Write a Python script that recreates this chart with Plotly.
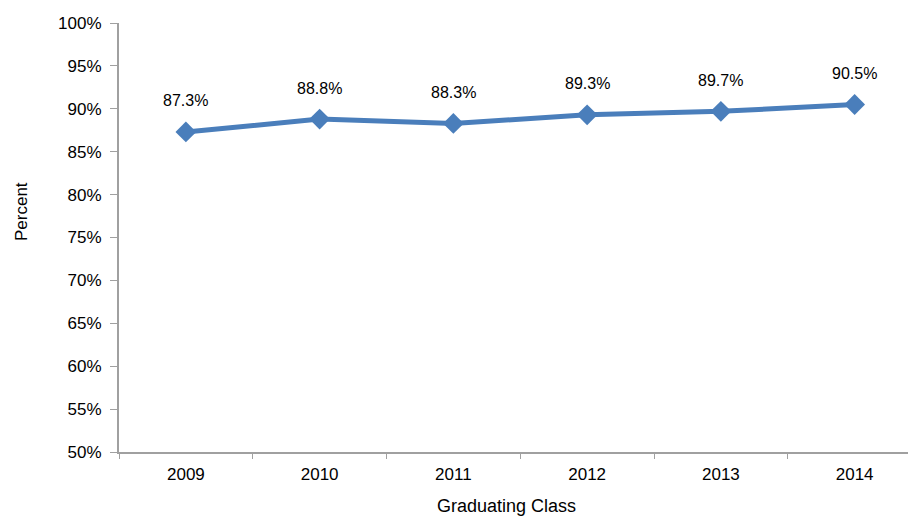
import plotly.graph_objects as go

years = ["2009", "2010", "2011", "2012", "2013", "2014"]
values = [87.3, 88.8, 88.3, 89.3, 89.7, 90.5]
labels = ["87.3%", "88.8%", "88.3%", "89.3%", "89.7%", "90.5%"]
y_ticks = list(range(50, 101, 5))
y_tick_text = [f"{v}%" for v in y_ticks]

font_family = "Liberation Sans, Arial, sans-serif"
axis_color = "#a0a0a0"
line_color = "#4a7ebb"

# page has an 8px body margin, so figure is sized to end at the window edge
W, H = 908, 512
L, T, B, R = 111, 15, 68, 0
pw, ph = W - L - R, H - T - B

fig = go.Figure()
fig.add_trace(go.Scatter(
    x=list(range(len(years))), y=values, mode="lines+markers",
    line=dict(color=line_color, width=5),
    marker=dict(symbol="diamond", size=16, color=line_color),
    hoverinfo="skip", showlegend=False,
))

for i, (v, t) in enumerate(zip(values, labels)):
    fig.add_annotation(x=i, y=v, text=t, showarrow=False, yshift=31,
                       font=dict(size=16, color="#000", family=font_family))

fig.add_annotation(text="Graduating Class", xref="paper", yref="paper",
                   x=(498 - L) / pw, y=-(498 - (H - B)) / ph,
                   showarrow=False, xanchor="center", yanchor="middle",
                   font=dict(size=18, color="#000", family=font_family))
fig.add_annotation(text="Percent", xref="paper", yref="paper",
                   x=-(L - 14) / pw, y=((H - B) - 204) / ph, textangle=-90,
                   showarrow=False, xanchor="center", yanchor="middle",
                   font=dict(size=17, color="#000", family=font_family))

cat_px = 133.75
fig.update_layout(
    width=W, height=H,
    margin=dict(l=L, r=R, t=T, b=B, autoexpand=False),
    plot_bgcolor="white", paper_bgcolor="white",
    font=dict(family=font_family, size=17, color="#000"),
)
fig.update_xaxes(
    range=[-0.5, -0.5 + pw / cat_px], tickmode="array",
    tickvals=list(range(len(years))), ticktext=years,
    showgrid=False, zeroline=False, showline=True, linecolor=axis_color, linewidth=2,
    ticks="", tickfont=dict(size=17), ticklabelstandoff=6,
    minor=dict(tickmode="array", tickvals=[i + 0.5 for i in range(-1, len(years))],
               ticks="outside", ticklen=5, tickcolor=axis_color, tickwidth=1, showgrid=False),
)
fig.update_yaxes(
    range=[50, 100], tickmode="array", tickvals=y_ticks, ticktext=y_tick_text,
    showgrid=False, zeroline=False, showline=True, linecolor=axis_color, linewidth=2,
    ticks="outside", ticklen=7, tickcolor=axis_color, tickwidth=1,
    tickfont=dict(size=17), ticklabelstandoff=5,
)

fig.write_html("out.html")
